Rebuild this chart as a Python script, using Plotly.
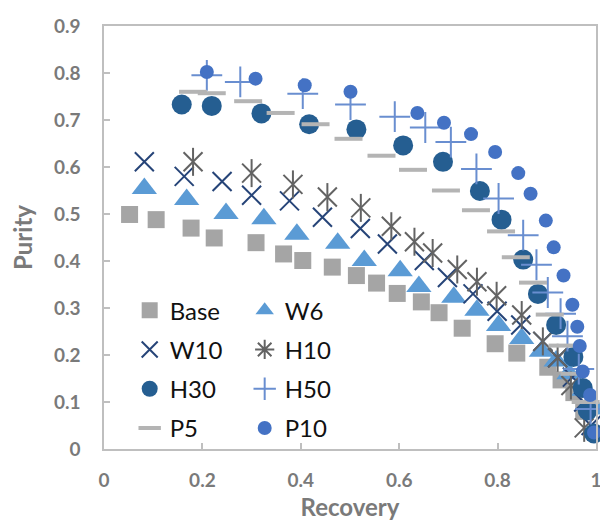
import plotly.graph_objects as go

# ---- data ----
base_x = [0.052, 0.106, 0.177, 0.224, 0.309, 0.365, 0.404, 0.464, 0.513, 0.554, 0.596, 0.645, 0.681, 0.728, 0.795, 0.839, 0.902, 0.929, 0.955, 0.975]
base_y = [0.499, 0.488, 0.470, 0.449, 0.439, 0.415, 0.401, 0.387, 0.369, 0.353, 0.331, 0.313, 0.290, 0.257, 0.224, 0.204, 0.174, 0.147, 0.120, 0.080]

w6_x = [0.082, 0.168, 0.248, 0.325, 0.392, 0.475, 0.529, 0.602, 0.640, 0.711, 0.758, 0.802, 0.849, 0.889, 0.919, 0.945, 0.975, 1.0]
w6_y = [0.554, 0.531, 0.501, 0.490, 0.457, 0.438, 0.401, 0.379, 0.346, 0.323, 0.295, 0.263, 0.235, 0.208, 0.187, 0.160, 0.125, 0.085]

w10_x = [0.082, 0.163, 0.240, 0.300, 0.377, 0.444, 0.521, 0.576, 0.651, 0.698, 0.750, 0.799, 0.847, 0.892, 0.922, 0.952, 0.975, 0.990]
w10_y = [0.611, 0.580, 0.569, 0.540, 0.528, 0.493, 0.469, 0.436, 0.401, 0.365, 0.330, 0.293, 0.264, 0.229, 0.194, 0.153, 0.100, 0.050]

h10_x = [0.181, 0.300, 0.384, 0.454, 0.522, 0.584, 0.631, 0.668, 0.718, 0.758, 0.798, 0.849, 0.892, 0.922, 0.949, 0.976]
h10_y = [0.611, 0.587, 0.563, 0.536, 0.513, 0.474, 0.441, 0.417, 0.382, 0.356, 0.326, 0.285, 0.229, 0.194, 0.135, 0.045]

h30_x = [0.158, 0.219, 0.320, 0.417, 0.513, 0.608, 0.689, 0.764, 0.808, 0.852, 0.882, 0.919, 0.954, 0.973, 0.983, 0.996]
h30_y = [0.733, 0.730, 0.714, 0.691, 0.680, 0.646, 0.611, 0.549, 0.488, 0.403, 0.330, 0.264, 0.196, 0.130, 0.082, 0.033]

h50_x = [0.209, 0.277, 0.404, 0.501, 0.591, 0.653, 0.705, 0.757, 0.802, 0.852, 0.879, 0.902, 0.928, 0.942, 0.965, 0.989]
h50_y = [0.795, 0.781, 0.756, 0.733, 0.707, 0.684, 0.653, 0.596, 0.533, 0.455, 0.392, 0.333, 0.288, 0.240, 0.170, 0.085]

p5_x = [0.181, 0.219, 0.293, 0.359, 0.430, 0.497, 0.564, 0.628, 0.695, 0.756, 0.807, 0.837, 0.872, 0.906, 0.932, 0.956, 0.979]
p5_y = [0.760, 0.757, 0.740, 0.715, 0.691, 0.660, 0.624, 0.594, 0.550, 0.508, 0.463, 0.408, 0.354, 0.286, 0.220, 0.160, 0.100]

p10_x = [0.209, 0.308, 0.408, 0.501, 0.637, 0.691, 0.746, 0.795, 0.842, 0.867, 0.898, 0.914, 0.934, 0.952, 0.962, 0.967, 0.973, 0.988, 0.996]
p10_y = [0.802, 0.788, 0.774, 0.760, 0.715, 0.694, 0.670, 0.632, 0.587, 0.543, 0.486, 0.429, 0.369, 0.307, 0.260, 0.219, 0.165, 0.115, 0.035]

x_ticks = [0, 0.2, 0.4, 0.6, 0.8, 1]
y_ticks = [0, 0.1, 0.2, 0.3, 0.4, 0.5, 0.6, 0.7, 0.8, 0.9]

FONT = "Lato, 'Open Sans', sans-serif"
GRAY = "#7A7A7A"
AX = "#BFBFBF"

fig = go.Figure()

def add(x, y, name, symbol, color, size, legend, lw=0, show=True, group=None):
    marker = dict(symbol=symbol, size=size, color=color)
    if symbol.endswith("-open"):
        marker["line"] = dict(color=color, width=lw)
    else:
        marker["line"] = dict(width=0)
    fig.add_trace(go.Scatter(
        x=x, y=y, name=name, mode="markers", marker=marker,
        cliponaxis=False, showlegend=show, legend=legend,
        legendgroup=group or name,
    ))

add(base_x, base_y, "Base", "square", "#A5A5A5", 17, "legend")
add(w6_x, w6_y, "W6", "triangle-up", "#5B9BD5", 22, "legend")
add(w10_x, w10_y, "W10", "x-thin-open", "#264478", 19, "legend2", lw=2)
# H10: asterisk (X plus vertical bar) drawn as two overlaid symbol layers
add(h10_x, h10_y, "H10", "x-thin-open", "#636363", 19, "legend2", lw=2, show=False, group="H10")
add(h10_x, h10_y, "H10", "line-ns-open", "#636363", 20, "legend2", lw=2, show=False, group="H10")
fig.add_trace(go.Scatter(x=[None], y=[None], name="H10", mode="markers",
                         marker=dict(symbol="asterisk-open", size=18, color="#636363",
                                     line=dict(color="#636363", width=2)),
                         legend="legend2", legendgroup="H10"))
add(h30_x, h30_y, "H30", "circle", "#255E91", 20, "legend3")
add(h50_x, h50_y, "H50", "cross-thin-open", "#698ED0", 22, "legend3", lw=2)
add(p5_x, p5_y, "P5", "line-ew-open", "#B4B4B4", 20, "legend4", lw=4)
add(p10_x, p10_y, "P10", "circle", "#4472C4", 14, "legend4")

# page body has an 8px margin: figure is 600x515 placed at (8, 8)
OFF = 8
PL, PT, PR, PB = 104, 19, 602, 450   # plot area in window pixels
H = float(PB - PT)
W = float(PR - PL)

def leg(py):
    return dict(
        x=(130 - PL) / W, xanchor="left",
        y=(PB - py) / H, yanchor="middle",
        orientation="h", entrywidth=70, entrywidthmode="pixels",
        font=dict(family=FONT, size=24, color="#111111"),
        bgcolor="rgba(0,0,0,0)", borderwidth=0,
        itemsizing="trace", traceorder="normal",
    )

fig.update_layout(
    width=600, height=515,
    margin=dict(l=PL - OFF, r=OFF + 600 - PR, t=PT - OFF, b=OFF + 515 - PB),
    paper_bgcolor="white", plot_bgcolor="white",
    font=dict(family=FONT),
    legend=leg(309), legend2=leg(349), legend3=leg(389), legend4=leg(429),
    xaxis=dict(
        range=[0, 1], tickvals=x_ticks, ticktext=[f"{v:g}" for v in x_ticks],
        showline=True, mirror=True, linecolor=AX, linewidth=1.5,
        ticks="inside", ticklen=6, tickcolor=AX, tickwidth=1.5,
        showgrid=False, zeroline=False, ticklabelstandoff=13,
        ticklabeloverflow="allow",
        tickfont=dict(family=FONT, size=19, color=GRAY, weight="bold"),
        title=dict(text="<b>Recovery</b>", font=dict(family=FONT, size=24, color=GRAY), standoff=10),
    ),
    yaxis=dict(
        range=[0, 0.9], tickvals=y_ticks, ticktext=[f"{v:g}" for v in y_ticks],
        showline=True, mirror=True, linecolor=AX, linewidth=1.5,
        ticks="inside", ticklen=6, tickcolor=AX, tickwidth=1.5,
        showgrid=False, zeroline=False, ticklabelstandoff=18,
        ticklabeloverflow="allow",
        tickfont=dict(family=FONT, size=19, color=GRAY, weight="bold"),
        title=dict(text="<b>Purity</b>", font=dict(family=FONT, size=24, color=GRAY), standoff=20),
    ),
)

fig.write_html("out.html")
